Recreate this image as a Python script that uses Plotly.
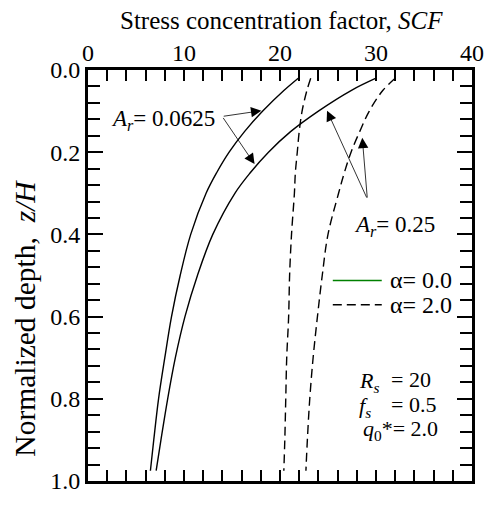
import plotly.graph_objects as go

# ---- data ----
z_grid = [0.02, 0.05, 0.10, 0.15, 0.20, 0.25, 0.30, 0.40, 0.50, 0.60, 0.70, 0.80, 0.90, 0.975]
scf_ar00625_a0 = [21.9, 20.4, 18.2, 16.3, 14.7, 13.4, 12.3, 10.7, 9.6, 8.7, 8.0, 7.35, 6.85, 6.5]
scf_ar025_a0 = [30.0, 27.4, 24.0, 21.1, 18.8, 16.9, 15.3, 13.0, 11.4, 10.1, 9.1, 8.3, 7.6, 7.1]
scf_ar00625_a2 = [23.2, 22.8, 22.3, 22.0, 21.8, 21.6, 21.5, 21.2, 21.0, 20.9, 20.7, 20.6, 20.5, 20.4]
scf_ar025_a2 = [32.0, 30.7, 29.3, 28.3, 27.4, 26.7, 26.1, 25.0, 24.4, 23.9, 23.45, 23.1, 22.85, 22.7]

x_ticks = [0, 10, 20, 30, 40]
y_ticks = [0.0, 0.2, 0.4, 0.6, 0.8, 1.0]
legend_labels = ["α= 0.0", "α= 2.0"]

FONT = "Liberation Serif"
DASH = "9px,5px"

fig = go.Figure()
for xs, dash in [(scf_ar00625_a0, "solid"), (scf_ar025_a0, "solid"),
                 (scf_ar00625_a2, DASH), (scf_ar025_a2, DASH)]:
    fig.add_trace(go.Scatter(x=xs, y=z_grid, mode="lines", line_shape="spline",
                             line=dict(color="black", width=1.4, dash=dash),
                             showlegend=False, hoverinfo="skip"))

axis_common = dict(showline=True, linecolor="black", linewidth=3, mirror="ticks",
                   ticks="inside", tickcolor="black", tickwidth=1.5,
                   showgrid=False, zeroline=False,
                   tickfont=dict(family=FONT, size=24, color="black"))

fig.update_xaxes(range=[0, 40], side="top", tickvals=x_ticks, ticklen=11, ticklabelstandoff=-4,
                 minor=dict(dtick=2, ticks="inside", ticklen=11, tickcolor="black", tickwidth=1.5),
                 **axis_common)
fig.update_yaxes(range=[1, 0], tickvals=y_ticks, tickformat=".1f", ticklen=15,
                 minor=dict(dtick=0.04, ticks="inside", ticklen=12, tickcolor="black", tickwidth=1.5),
                 **axis_common)

ann = []
# x-axis title (top)
ann.append(dict(text="Stress concentration factor, <i>SCF</i>", xref="paper", yref="paper",
                x=0.503, y=1.12, xanchor="center", yanchor="middle", showarrow=False,
                font=dict(family=FONT, size=25, color="black")))
# y-axis title
ann.append(dict(text="Normalized depth,  <i>z/H</i>", xref="paper", yref="y", x=-0.163, y=0.604,
                xanchor="center", yanchor="middle",
                textangle=-90, showarrow=False, font=dict(family=FONT, size=29.5, color="black")))
# labels
ann.append(dict(text="<i>A</i><sub><i>r</i></sub>= 0.0625", xref="x", yref="y", x=2.2, y=0.122,
                xanchor="left", yanchor="middle", showarrow=False,
                font=dict(family=FONT, size=23, color="black")))
ann.append(dict(text="<i>A</i><sub><i>r</i></sub>= 0.25", xref="x", yref="y", x=27.5, y=0.38,
                xanchor="left", yanchor="middle", showarrow=False,
                font=dict(family=FONT, size=23, color="black")))
# arrows
arrow_style = dict(xref="x", yref="y", axref="x", ayref="y", text="", showarrow=True,
                   arrowhead=2, arrowsize=2.6, arrowwidth=0.8, arrowcolor="black", standoff=0)
for tail, tip in [((13.98, 0.113), (18.06, 0.099)), ((13.98, 0.113), (17.35, 0.229)),
                  ((29.1, 0.314), (24.9, 0.099)), ((29.1, 0.314), (28.57, 0.165))]:
    ann.append(dict(x=tip[0], y=tip[1], ax=tail[0], ay=tail[1], **arrow_style))
# legend text
for lab, yy in zip(legend_labels, [0.512, 0.571]):
    ann.append(dict(text=lab, xref="x", yref="y", x=31.3, y=yy, xanchor="left", yanchor="middle",
                    showarrow=False, font=dict(family=FONT, size=24, color="black")))
# parameter block
for txt, x0, yy in [("<i>R</i><sub><i>s</i></sub>", 28.0, 0.76), ("<i>f</i><sub><i>s</i></sub>", 28.0, 0.82),
                    ("<i>q</i><sub>0</sub>*= 2.0", 28.4, 0.875)]:
    ann.append(dict(text=txt, xref="x", yref="y", x=x0, y=yy, xanchor="left", yanchor="middle",
                    showarrow=False, font=dict(family=FONT, size=22, color="black")))
for txt, yy in [("= 20", 0.753), ("= 0.5", 0.813)]:
    ann.append(dict(text=txt, xref="x", yref="y", x=31.4, y=yy, xanchor="left", yanchor="middle",
                    showarrow=False, font=dict(family=FONT, size=22, color="black")))

shapes = [
    dict(type="line", xref="x", yref="y", x0=25.5, x1=30.6, y0=0.512, y1=0.512,
         line=dict(color="#008000", width=1.5)),
    dict(type="line", xref="x", yref="y", x0=25.5, x1=30.6, y0=0.571, y1=0.571,
         line=dict(color="black", width=1.5, dash=DASH)),
]

fig.update_layout(width=496, height=506, margin=dict(l=88, r=16, t=70, b=12),
                  plot_bgcolor="white", paper_bgcolor="white",
                  annotations=ann, shapes=shapes, showlegend=False,
                  font=dict(family=FONT, color="black"))
fig.write_html("out.html")
